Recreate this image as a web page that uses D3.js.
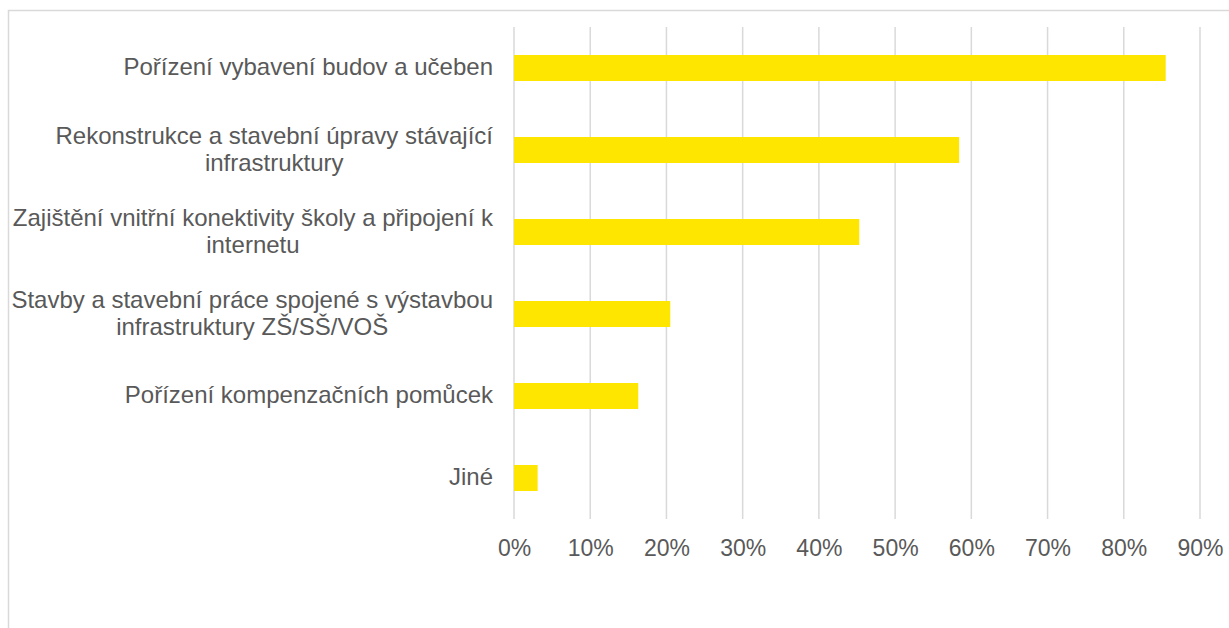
<!DOCTYPE html>
<html>
<head>
<meta charset="utf-8">
<script src="https://cdn.jsdelivr.net/npm/d3@7"></script>
<style>
  html, body { margin: 0; padding: 0; background: #fff; }
  svg { display: block; }
  text { font-family: "Liberation Sans", Arial, sans-serif; fill: #595959; }
</style>
</head>
<body>
<svg id="chart" width="1229" height="628"></svg>
<script>
// Categories (top to bottom) and their shares
const categories = [
  "Pořízení vybavení budov a učeben",
  "Rekonstrukce a stavební úpravy stávající infrastruktury",
  "Zajištění vnitřní konektivity školy a připojení k internetu",
  "Stavby a stavební práce spojené s výstavbou infrastruktury ZŠ/SŠ/VOŠ",
  "Pořízení kompenzačních pomůcek",
  "Jiné"
];
const shares = [0.855, 0.584, 0.453, 0.205, 0.163, 0.031];
const tickValues = [0, 0.1, 0.2, 0.3, 0.4, 0.5, 0.6, 0.7, 0.8, 0.9];

const W = 1229, H = 628;
const plot = { left: 514, right: 1200, top: 27, bottom: 519 };
const labelRight = 493;
const labelFont = 24;
const tickFont = 23;
const maxLabelWidth = 492;
const lineH = 27;

const svg = d3.select("#chart");

// Chart area frame (runs off the right and bottom edges)
svg.append("rect")
  .attr("x", 8.5).attr("y", 10.5)
  .attr("width", W + 20).attr("height", H + 20)
  .attr("fill", "#fff")
  .attr("stroke", "#d9d9d9").attr("stroke-width", 1.5);

const x = d3.scaleLinear().domain([0, 0.9]).range([plot.left, plot.right]);
const y = d3.scaleBand().domain(categories).range([plot.top, plot.bottom]).paddingInner(0.683).paddingOuter(0.3415);

// Vertical gridlines
svg.append("g")
  .selectAll("line")
  .data(tickValues)
  .join("line")
  .attr("x1", d => x(d)).attr("x2", d => x(d))
  .attr("y1", plot.top).attr("y2", plot.bottom)
  .attr("stroke", "#d9d9d9").attr("stroke-width", 1.5);

// Bars
svg.append("g")
  .selectAll("rect")
  .data(categories.map((c, i) => ({ c, v: shares[i] })))
  .join("rect")
  .attr("x", x(0))
  .attr("y", d => y(d.c))
  .attr("width", d => x(d.v) - x(0))
  .attr("height", y.bandwidth())
  .attr("fill", "#ffe600");

// Bottom axis labels
const xAxis = d3.axisBottom(x)
  .tickValues(tickValues)
  .tickFormat(d3.format(".0%"))
  .tickSize(0)
  .tickPadding(0);
const gx = svg.append("g").attr("transform", `translate(0,${plot.bottom})`).call(xAxis);
gx.select(".domain").remove();
gx.selectAll("text")
  .attr("dy", null)
  .attr("y", 37)
  .style("font-size", tickFont + "px")
  .style("font-family", "'Liberation Sans', Arial, sans-serif")
  .attr("fill", "#595959");

// Category labels: wrapped, lines centred within the block, block right-aligned
const measure = svg.append("text").style("font-size", labelFont + "px").attr("visibility", "hidden");
function textWidth(s) { measure.text(s); return measure.node().getComputedTextLength(); }
function wrap(s) {
  const words = s.split(" ");
  const lines = [];
  let cur = "";
  words.forEach(w => {
    const t = cur ? cur + " " + w : w;
    if (cur && textWidth(t) > maxLabelWidth) { lines.push(cur); cur = w; }
    else cur = t;
  });
  if (cur) lines.push(cur);
  return lines;
}

const gl = svg.append("g");
categories.forEach(c => {
  const lines = wrap(c);
  const widest = d3.max(lines, textWidth);
  const cx = labelRight - widest / 2;
  const cy = y(c) + y.bandwidth() / 2 - 1;
  lines.forEach((ln, i) => {
    gl.append("text")
      .attr("text-anchor", "middle")
      .style("font-size", labelFont + "px")
      .attr("x", cx)
      .attr("y", cy + (i - (lines.length - 1) / 2) * lineH)
      .attr("dy", "0.35em")
      .text(ln);
  });
});
measure.remove();
</script>
</body>
</html>
